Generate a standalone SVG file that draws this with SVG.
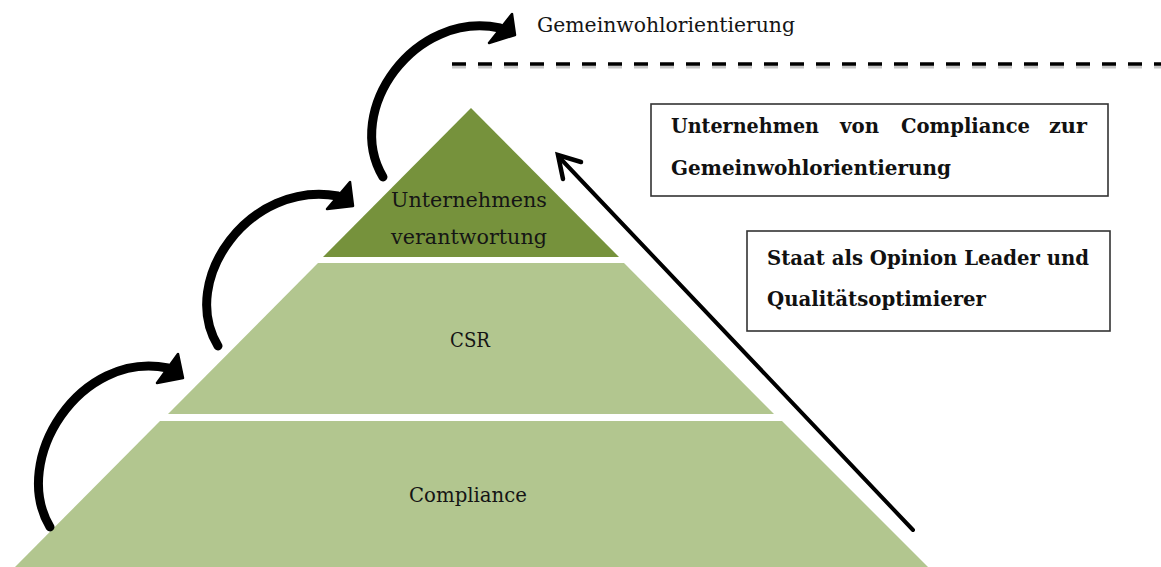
<svg xmlns="http://www.w3.org/2000/svg" width="1161" height="567" viewBox="0 0 1161 567">
<defs>
<style>
.lbl{font-family:"DejaVu Serif","Liberation Serif",serif;font-size:21px;fill:#151515}
.bld{font-family:"DejaVu Serif","Liberation Serif",serif;font-size:20px;font-weight:bold;fill:#111}
.box{fill:#fff;stroke:#333;stroke-width:1.6}
.curve{fill:none;stroke:#000;stroke-width:9;stroke-linecap:round}
.head{fill:#000;stroke:#000;stroke-width:2.5;stroke-linejoin:round}
</style>
</defs>
<rect width="1161" height="567" fill="#fff"/>
<g id="layer-top">
<polygon points="471,108 619,257 323,257" fill="#76923c"/>
<text class="lbl" x="469" y="207" text-anchor="middle" textLength="156" lengthAdjust="spacingAndGlyphs">Unternehmens</text>
<text class="lbl" x="469" y="244" text-anchor="middle" textLength="156" lengthAdjust="spacingAndGlyphs">verantwortung</text>
</g>
<g id="layer-csr">
<polygon points="318,263 624,263 774,414 168,414" fill="#b2c68f"/>
<text class="lbl" x="470" y="347" text-anchor="middle" textLength="40" lengthAdjust="spacingAndGlyphs">CSR</text>
</g>
<g id="layer-compliance">
<polygon points="160,421 782,421 928,567 15,567" fill="#b2c68f"/>
<text class="lbl" x="468" y="502" text-anchor="middle" textLength="118" lengthAdjust="spacingAndGlyphs">Compliance</text>
</g>
<g id="top-label">
<text class="lbl" x="537" y="32" textLength="258" lengthAdjust="spacingAndGlyphs">Gemeinwohlorientierung</text>
</g>
<g id="divider">
<line x1="452" y1="67" x2="1161" y2="67" stroke="#c8c8c8" stroke-width="3" stroke-dasharray="14 12"/>
<line x1="452" y1="64" x2="1161" y2="64" stroke="#000" stroke-width="3.5" stroke-dasharray="14 12"/>
</g>
<g id="box-unternehmen">
<rect class="box" x="651" y="104" width="457" height="92"/>
<text class="bld" y="133"><tspan x="671" textLength="148" lengthAdjust="spacingAndGlyphs">Unternehmen</tspan></text>
<text class="bld" y="133"><tspan x="840" textLength="39" lengthAdjust="spacingAndGlyphs">von</tspan></text>
<text class="bld" y="133"><tspan x="901" textLength="129" lengthAdjust="spacingAndGlyphs">Compliance</tspan></text>
<text class="bld" y="133"><tspan x="1049" textLength="38" lengthAdjust="spacingAndGlyphs">zur</tspan></text>
<text class="bld" x="671" y="175" textLength="280" lengthAdjust="spacingAndGlyphs">Gemeinwohlorientierung</text>
</g>
<g id="box-staat">
<rect class="box" x="747" y="231" width="363" height="100"/>
<text class="bld" x="767" y="265" textLength="322" lengthAdjust="spacingAndGlyphs">Staat als Opinion Leader und</text>
<text class="bld" x="767" y="306" textLength="219" lengthAdjust="spacingAndGlyphs">Qualitätsoptimierer</text>
</g>
<g id="connectors">
<path class="curve" d="M 50 527 C 10 460 80 350 168 368"/>
<polygon class="head" points="178,354 183,378 157,383"/>
<path class="curve" d="M 218 346 C 178 280 250 180 338 196"/>
<polygon class="head" points="350,182 353,206 327,209"/>
<path class="curve" d="M 383 177 C 343 110 415 10 500 28"/>
<polygon class="head" points="512,14 515,35 489,43"/>
<line x1="913" y1="530" x2="559" y2="157" stroke="#000" stroke-width="4" stroke-linecap="round"/>
<polyline points="581,162 558,155 563,179" fill="none" stroke="#000" stroke-width="4.5" stroke-linecap="round" stroke-linejoin="miter"/>
</g>
</svg>
